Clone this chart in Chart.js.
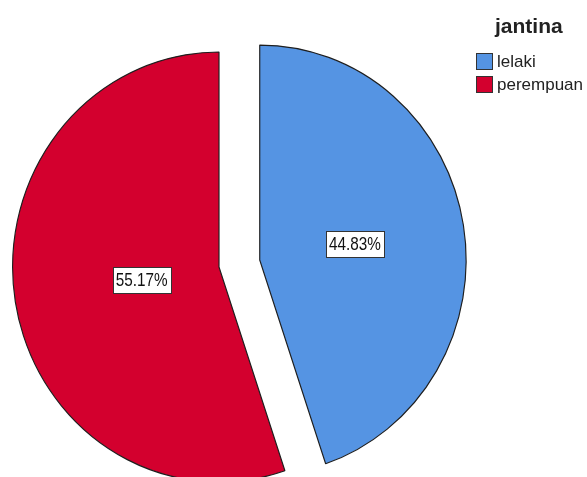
<!DOCTYPE html>
<html>
<head>
<meta charset="utf-8">
<script src="https://cdn.jsdelivr.net/npm/chart.js"></script>
<style>
  html, body { margin: 0; padding: 0; background: #fff; }
  #wrap { position: relative; width: 587px; height: 477px; overflow: hidden; }
  #legend { position: absolute; left: 476px; top: 14px; color: #222; }
  #legend .title { font: bold 21px "Liberation Sans", Arial, sans-serif; margin-left: 19px; height: 36px; }
  #legend .item { display: flex; align-items: center; height: 23px; font: 17px "Liberation Sans", Arial, sans-serif; }
  #legend .box { width: 17px; height: 17px; border: 1px solid #333; margin-right: 4px; box-sizing: border-box; }
</style>
</head>
<body>
<div id="wrap">
  <canvas id="pie" width="587" height="477"></canvas>
  <div id="legend"></div>
</div>
<script>
const legendTitle = "jantina";
const categories = ["lelaki", "perempuan"];
const counts = [13, 16];
const colours = ["#5594e3", "#d3002e"];
const explode = [43, 0];

const squeezeX = 0.96;
const total = counts.reduce((s, v) => s + v, 0);
const percents = counts.map(v => (v / total * 100).toFixed(2) + "%");

// html legend
const $legend = document.getElementById("legend");
$legend.innerHTML = `<div class="title">${legendTitle}</div>`;
categories.forEach((c, i) => {
  $legend.innerHTML += `<div class="item"><span class="box" style="background:${colours[i]}"></span>${c}</div>`;
});

// pie whose slices are pulled out by a plain translation (like SPSS)
class ExplodedPie extends Chart.PieController {
  draw() {
    const ctx = this.chart.ctx;
    const meta = this._cachedMeta;
    const ds = this.getDataset();
    const a = this.chart.chartArea;
    const cx = (a.left + a.right) / 2;
    const cy = (a.top + a.bottom) / 2;
    ctx.save();
    ctx.translate(cx, cy);
    ctx.scale(squeezeX, 1);
    ctx.translate(-cx, -cy);
    meta.data.forEach((arc, i) => {
      const d = (ds.explode && ds.explode[i]) || 0;
      const mid = (arc.startAngle + arc.endAngle) / 2;
      ctx.save();
      ctx.translate(Math.cos(mid) * d, Math.sin(mid) * d);
      arc.draw(ctx, a);
      ctx.restore();
    });
    ctx.restore();
  }
}
ExplodedPie.id = "explodedPie";
ExplodedPie.defaults = Chart.PieController.defaults;
ExplodedPie.overrides = Chart.PieController.overrides;
Chart.register(ExplodedPie);

const sliceLabels = {
  id: "sliceLabels",
  afterDatasetsDraw(chart) {
    const ctx = chart.ctx;
    const a = chart.chartArea;
    const cx = (a.left + a.right) / 2;
    const meta = chart.getDatasetMeta(0);
    const ds = chart.data.datasets[0];
    ctx.save();
    ctx.font = '18px "Liberation Sans", Arial, sans-serif';
    ctx.textAlign = "center";
    ctx.textBaseline = "middle";
    meta.data.forEach((arc, i) => {
      const circ = arc.endAngle - arc.startAngle;
      const mid = (arc.startAngle + arc.endAngle) / 2;
      const disp = ds.explode[i] || 0;
      // centroid of the sector
      const d = (2 * arc.outerRadius * Math.sin(circ / 2)) / (1.5 * circ);
      let x = arc.x + Math.cos(mid) * (disp + d);
      const y = arc.y + Math.sin(mid) * (disp + d);
      x = cx + (x - cx) * squeezeX;
      const txt = percents[i];
      const w = Math.round(ctx.measureText(txt).width * 0.85 + 6);
      const h = 26;
      const bx = Math.round(x - w / 2) + 0.5;
      const by = Math.round(y - h / 2) + 0.5;
      ctx.fillStyle = "#fff";
      ctx.fillRect(bx, by, w, h);
      ctx.strokeStyle = "#333";
      ctx.lineWidth = 1;
      ctx.strokeRect(bx, by, w, h);
      ctx.fillStyle = "#111";
      ctx.save();
      ctx.translate(x, y + 1);
      ctx.scale(0.85, 1);
      ctx.fillText(txt, 0, 0);
      ctx.restore();
    });
    ctx.restore();
  }
};

new Chart(document.getElementById("pie"), {
  type: "explodedPie",
  data: {
    labels: categories,
    datasets: [{
      data: counts,
      backgroundColor: colours,
      borderColor: "#1e1e1e",
      borderWidth: 1.2,
      explode: explode,
      hoverOffset: 0,
      clip: false
    }]
  },
  options: {
    responsive: false,
    animation: false,
    radius: 215,
    layout: { padding: { left: 0, right: 149, top: 57, bottom: 0 } },
    plugins: {
      legend: { display: false },
      tooltip: { enabled: false }
    }
  },
  plugins: [sliceLabels]
});
</script>
</body>
</html>
